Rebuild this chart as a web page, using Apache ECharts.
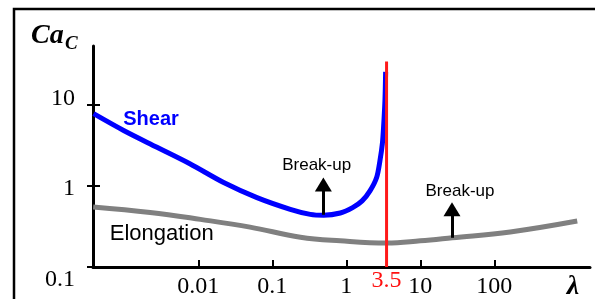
<!DOCTYPE html>
<html><head><meta charset="utf-8">
<script src="https://cdn.jsdelivr.net/npm/echarts@6/dist/echarts.min.js"></script>
<style>html,body{margin:0;padding:0;background:#fff}#c{width:595px;height:299px}</style>
</head><body><div id="c"></div>
<script>
// Shear curve (lambda, Ca_c)
const shearX = [0.000385, 0.00098, 0.00277, 0.0078, 0.022, 0.0621, 0.175, 0.326, 0.493, 0.830, 1.217, 1.635, 2.09, 2.57, 2.85, 3.07, 3.19, 3.33, 3.40];
const shearY = [7.73, 4.80, 2.98, 1.858, 1.099, 0.716, 0.514, 0.445, 0.434, 0.462, 0.538, 0.652, 0.867, 1.267, 2.04, 3.29, 5.28, 11.3, 25.3];
// Elongation curve
const elongX = [0.00038, 0.00224, 0.0107, 0.05, 0.24, 0.83, 3.5, 10, 27, 164, 1320];
const elongY = [0.55, 0.47, 0.386, 0.31, 0.233, 0.21, 0.197, 0.21, 0.229, 0.27, 0.368];
// critical viscosity ratio
const criticalLambda = 3.5;
const criticalLineY = [0.1, 34];
// break-up arrows
const arrowX = [0.49, 26.8];
const arrowFromY = [0.44, 0.229];
const arrowToY = [1.04, 0.514];
// axes
const xTickValues = [0.01, 0.1, 1, 10, 100];
const xTickLabels = ['0.01', '0.1', '1', '10', '100'];
const yTickValues = [0.1, 1, 10];
const yTickLabels = ['0.1', '1', '10'];
const xRange = [0.000378, 1963];
const yRange = [0.1, 52.7];

const serif = '"Liberation Serif", "Times New Roman", serif';
const sans = '"Liberation Sans", Arial, sans-serif';

function nearestIdx(arr, v) {
  let best = 0, bd = Infinity;
  arr.forEach((a, i) => { const d = Math.abs(Math.log10(a) - Math.log10(v)); if (d < bd) { bd = d; best = i; } });
  return best;
}

const chart = echarts.init(document.getElementById('c'), null, {renderer: 'canvas'});
const option = {
  animation: false,
  backgroundColor: '#fff',
  grid: {left: 93, right: 5, top: 46, bottom: 32, containLabel: false, outerBoundsMode: 'none'},
  xAxis: {
    type: 'log', logBase: 10, min: xRange[0], max: xRange[1],
    axisLine: {lineStyle: {color: '#000', width: 3}},
    axisTick: {inside: true, length: 7, lineStyle: {color: '#000', width: 2}, customValues: xTickValues},
    splitLine: {show: false},
    axisLabel: {
      customValues: xTickValues.concat([criticalLambda]),
      margin: 2,
      formatter: function (v) {
        if (Math.abs(v - criticalLambda) < 1e-6) return '{r|' + criticalLambda + '}';
        return '{n|' + xTickLabels[nearestIdx(xTickValues, v)] + '}';
      },
      rich: {
        n: {fontFamily: serif, fontSize: 24, color: '#000', padding: [6, 0, 0, 0]},
        r: {fontFamily: serif, fontSize: 24, color: '#ff1010'}
      }
    }
  },
  yAxis: [{
    type: 'log', logBase: 10, min: yRange[0], max: yRange[1],
    axisLine: {lineStyle: {color: '#000', width: 3}},
    axisTick: {inside: false, length: 6, lineStyle: {color: '#000', width: 2}, customValues: yTickValues},
    splitLine: {show: false},
    axisLabel: {
      customValues: yTickValues, margin: 18,
      formatter: function (v) { const i = nearestIdx(yTickValues, v); return '{y' + i + '|' + yTickLabels[i] + '}'; },
      rich: {
        y0: {fontFamily: serif, fontSize: 24, color: '#000', padding: [26, 0, 0, 0]},
        y1: {fontFamily: serif, fontSize: 24, color: '#000', padding: [6, 0, 0, 0]},
        y2: {fontFamily: serif, fontSize: 24, color: '#000', padding: [0, 0, 12, 0]}
      }
    }
  }, {
    type: 'log', logBase: 10, min: yRange[0], max: yRange[1], position: 'left',
    axisLine: {show: false},
    axisTick: {inside: true, length: 7, lineStyle: {color: '#000', width: 2}, customValues: [1, 10]},
    splitLine: {show: false},
    axisLabel: {show: false}
  }],
  series: [
    {
      type: 'line', name: 'Elongation', symbol: 'none', smooth: 0.4,
      lineStyle: {color: '#808080', width: 5},
      data: elongX.map((x, i) => [x, elongY[i]])
    },
    {
      type: 'line', name: 'Shear', symbol: 'none', smooth: 0.3,
      lineStyle: {color: '#0000ff', width: 5},
      data: shearX.map((x, i) => [x, shearY[i]])
    },
    {
      type: 'line', name: 'critical', symbol: 'none',
      lineStyle: {color: '#ff1a1a', width: 3},
      data: criticalLineY.map(y => [criticalLambda, y]),
      markLine: {
        silent: true, symbol: ['none', 'triangle'], symbolSize: [17, 14],
        label: {show: false},
        lineStyle: {color: '#000', width: 3, type: 'solid'},
        data: arrowX.map((x, i) => [{coord: [x, arrowFromY[i]]}, {coord: [x, arrowToY[i]]}])
      }
    }
  ],
  graphic: [
    {type: 'rect', shape: {x: 14, y: 9, width: 700, height: 400}, style: {fill: 'none', stroke: '#000', lineWidth: 2.5}, z: 100},
    {type: 'text', x: 31, y: 35.5, style: {text: 'Ca', font: 'italic bold 28px ' + serif, fill: '#000', align: 'left', verticalAlign: 'middle'}},
    {type: 'text', x: 65, y: 43.7, style: {text: 'C', font: 'italic bold 19px ' + serif, fill: '#000', align: 'left', verticalAlign: 'middle'}},
    {type: 'text', x: 573, y: 286.7, style: {text: 'λ', font: 'italic bold 28px ' + serif, fill: '#000', align: 'center', verticalAlign: 'middle'}},
    {type: 'text', x: 151, y: 119, style: {text: 'Shear', font: 'bold 20px ' + sans, fill: '#0000ff', align: 'center', verticalAlign: 'middle'}},
    {type: 'text', x: 161.7, y: 234, style: {text: 'Elongation', font: '22px ' + sans, fill: '#000', align: 'center', verticalAlign: 'middle'}},
    {type: 'text', x: 316.7, y: 165, style: {text: 'Break-up', font: '17px ' + sans, fill: '#000', align: 'center', verticalAlign: 'middle'}},
    {type: 'text', x: 460, y: 191.7, style: {text: 'Break-up', font: '17px ' + sans, fill: '#000', align: 'center', verticalAlign: 'middle'}}
  ]
};
chart.setOption(option);
</script>
</body></html>
